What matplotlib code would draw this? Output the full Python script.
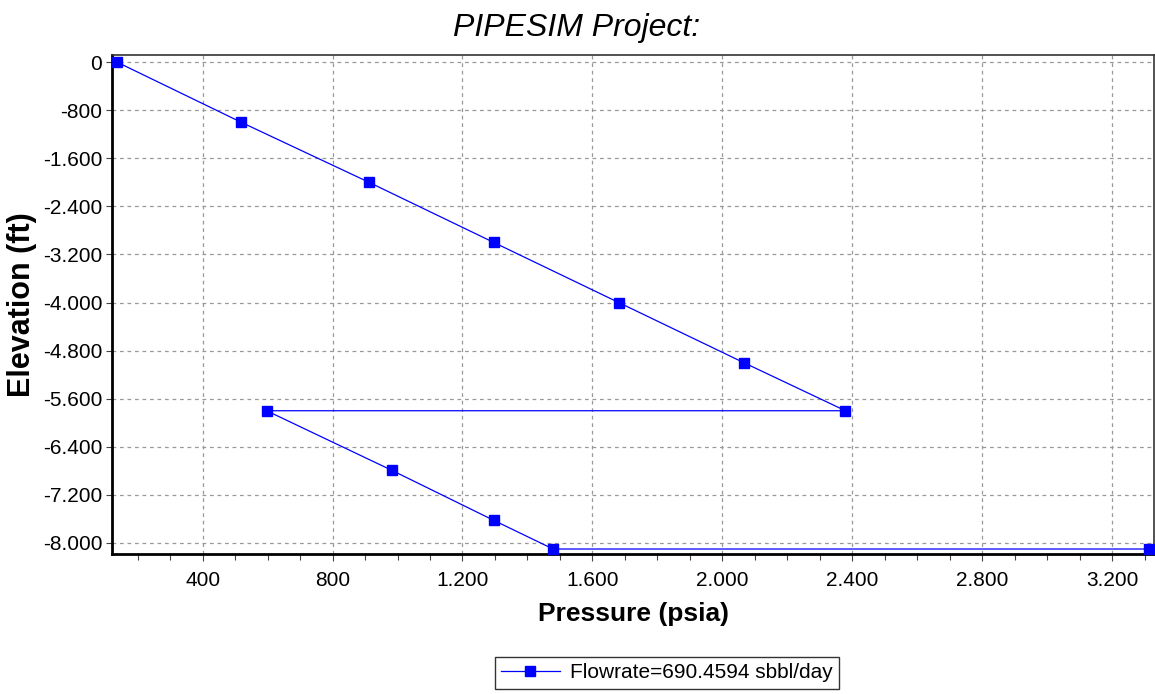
import matplotlib
matplotlib.use("Agg")
import matplotlib.pyplot as plt
from matplotlib.ticker import FuncFormatter, MultipleLocator

plt.rcParams['font.family'] = ['Liberation Sans', 'DejaVu Sans']

pressure = [136, 518, 912, 1296, 1681, 2066, 2379, 597, 982, 1297, 1479, 3315]
elevation = [0, -1000, -2000, -3000, -4000, -5000, -5800, -5800, -6790, -7625, -8100, -8100]
series_label = "Flowrate=690.4594 sbbl/day"
title = "PIPESIM Project:"
xlabel = "Pressure (psia)"
ylabel = "Elevation (ft)"
x_ticks = [400, 800, 1200, 1600, 2000, 2400, 2800, 3200]
y_ticks = [0, -800, -1600, -2400, -3200, -4000, -4800, -5600, -6400, -7200, -8000]

def fmt(v, pos=None):
    s = f"{int(round(v)):,}".replace(",", ".")
    return s

fig = plt.figure(figsize=(11.55, 6.94), dpi=100)
ax = fig.add_axes([112/1155, 1-554/694, (1154-112)/1155, (554-55)/694])

ax.plot(pressure, elevation, color=(0, 0, 1), lw=0.9, marker='s', markersize=7,
        markerfacecolor=(0, 0, 1), markeredgecolor=(0, 0, 1), label=series_label,
        clip_on=False, zorder=5)

ax.set_xlim(121, 3329)
ax.set_ylim(-8183, 117)
ax.set_xticks(x_ticks)
ax.set_yticks(y_ticks)
ax.xaxis.set_minor_locator(MultipleLocator(100))
ax.xaxis.set_major_formatter(FuncFormatter(fmt))
ax.yaxis.set_major_formatter(FuncFormatter(fmt))
ax.tick_params(axis='both', labelsize=15, colors='black', length=5, width=0.8)
ax.tick_params(axis='x', which='minor', length=4, width=0.8, colors='#444444')
ax.tick_params(axis='x', which='major', colors='#444444', labelcolor='black', pad=7)
ax.tick_params(axis='y', which='major', length=4, colors='#444444', labelcolor='black', pad=3)

ax.grid(True, which='major', linestyle=(0, (3, 3)), color='#999999', lw=0.9)

for s in ['left', 'bottom']:
    ax.spines[s].set_linewidth(2)
    ax.spines[s].set_color('black')
for s in ['top', 'right']:
    ax.spines[s].set_linewidth(1.2)
    ax.spines[s].set_color('#333333')

ax.set_xlabel(xlabel, fontsize=19, fontweight='bold', labelpad=9)
ax.set_ylabel(ylabel, fontsize=22, fontweight='bold', labelpad=4)
fig.text(577/1155, 1-28/694, title, fontsize=23, style='italic', ha='center', va='center')

leg = fig.legend(loc='center', bbox_to_anchor=(667/1155, 1-673/694), fontsize=15,
                 frameon=True, fancybox=False, edgecolor='black', handlelength=2.8,
                 borderpad=0.3, handletextpad=0.5, shadow=False)
leg.get_frame().set_linewidth(1.0)

fig.savefig("out.png", dpi=100)
